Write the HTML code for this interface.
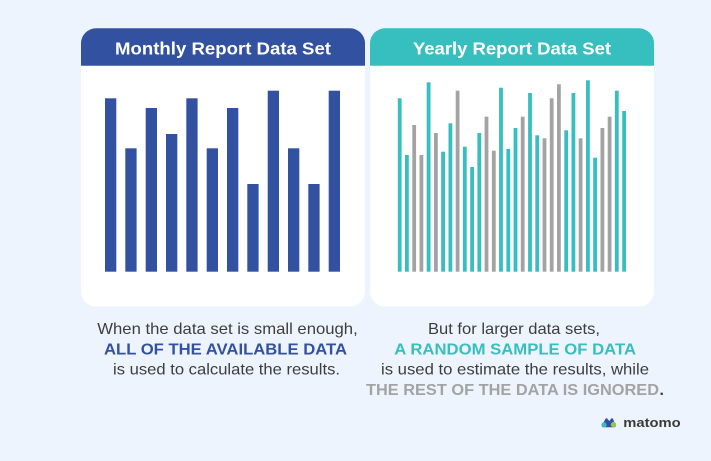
<!DOCTYPE html>
<html><head><meta charset="utf-8"><style>
html,body{margin:0;padding:0;background:#EEF4FD;}
svg{display:block;}
</style></head><body>
<svg width="711" height="461" viewBox="0 0 711 461" xmlns="http://www.w3.org/2000/svg">
<rect x="0" y="0" width="711" height="461" fill="#EEF4FD"/>
<!-- Left panel -->
<rect x="81" y="28.3" width="284" height="278.2" rx="15" fill="#FFFFFF"/>
<path d="M81 65.7 V43.3 A15 15 0 0 1 96 28.3 H350 A15 15 0 0 1 365 43.3 V65.7 Z" fill="#3251A1"/>
<text x="115" y="54.3" textLength="216" lengthAdjust="spacingAndGlyphs" font-family="Liberation Sans, sans-serif" font-weight="bold" font-size="17.5" fill="#FFFFFF">Monthly Report Data Set</text>
<g fill="#3251A1">
<rect x="105" y="98.3" width="11.3" height="173.4"/>
<rect x="125.3" y="148.3" width="11.3" height="123.4"/>
<rect x="145.7" y="108" width="11.3" height="163.7"/>
<rect x="166" y="134" width="11.3" height="137.7"/>
<rect x="186.3" y="98.3" width="11.3" height="173.4"/>
<rect x="206.7" y="148.3" width="11.3" height="123.4"/>
<rect x="227" y="108" width="11.3" height="163.7"/>
<rect x="247.3" y="184" width="11.3" height="87.7"/>
<rect x="267.7" y="90.7" width="11.3" height="181"/>
<rect x="288" y="148.3" width="11.3" height="123.4"/>
<rect x="308.3" y="184" width="11.3" height="87.7"/>
<rect x="328.7" y="90.7" width="11.3" height="181"/>
</g>
<!-- Right panel -->
<rect x="370" y="28.3" width="284" height="278.2" rx="15" fill="#FFFFFF"/>
<path d="M370 65.7 V43.3 A15 15 0 0 1 385 28.3 H639 A15 15 0 0 1 654 43.3 V65.7 Z" fill="#37BEBE"/>
<text x="413" y="54.3" textLength="198" lengthAdjust="spacingAndGlyphs" font-family="Liberation Sans, sans-serif" font-weight="bold" font-size="17.5" fill="#FFFFFF">Yearly Report Data Set</text>
<g>
<rect x="397.8" y="98.3" width="3.8" height="173.4" fill="#37BEBE"/>
<rect x="405.0" y="155" width="3.8" height="116.7" fill="#37BEBE"/>
<rect x="412.3" y="125" width="3.8" height="146.7" fill="#A3A3A3"/>
<rect x="419.5" y="155" width="3.8" height="116.7" fill="#A3A3A3"/>
<rect x="426.7" y="82.3" width="3.8" height="189.4" fill="#37BEBE"/>
<rect x="434.0" y="133" width="3.8" height="138.7" fill="#A3A3A3"/>
<rect x="441.2" y="151.7" width="3.8" height="120" fill="#37BEBE"/>
<rect x="448.5" y="123.3" width="3.8" height="148.4" fill="#37BEBE"/>
<rect x="455.7" y="90.7" width="3.8" height="181" fill="#A3A3A3"/>
<rect x="462.9" y="146.7" width="3.8" height="125" fill="#37BEBE"/>
<rect x="470.2" y="167" width="3.8" height="104.7" fill="#37BEBE"/>
<rect x="477.4" y="133" width="3.8" height="138.7" fill="#37BEBE"/>
<rect x="484.6" y="116.7" width="3.8" height="155" fill="#A3A3A3"/>
<rect x="491.9" y="150.7" width="3.8" height="121" fill="#A3A3A3"/>
<rect x="499.1" y="87.7" width="3.8" height="184" fill="#37BEBE"/>
<rect x="506.4" y="149" width="3.8" height="122.7" fill="#37BEBE"/>
<rect x="513.6" y="128" width="3.8" height="143.7" fill="#37BEBE"/>
<rect x="520.8" y="116.7" width="3.8" height="155" fill="#A3A3A3"/>
<rect x="528.1" y="93" width="3.8" height="178.7" fill="#37BEBE"/>
<rect x="535.3" y="135.3" width="3.8" height="136.4" fill="#37BEBE"/>
<rect x="542.6" y="138.3" width="3.8" height="133.4" fill="#A3A3A3"/>
<rect x="549.8" y="98.3" width="3.8" height="173.4" fill="#A3A3A3"/>
<rect x="557.0" y="84.3" width="3.8" height="187.4" fill="#A3A3A3"/>
<rect x="564.3" y="130.3" width="3.8" height="141.4" fill="#37BEBE"/>
<rect x="571.5" y="93" width="3.8" height="178.7" fill="#37BEBE"/>
<rect x="578.7" y="138.3" width="3.8" height="133.4" fill="#A3A3A3"/>
<rect x="586.0" y="80.3" width="3.8" height="191.4" fill="#37BEBE"/>
<rect x="593.2" y="157.7" width="3.8" height="114" fill="#37BEBE"/>
<rect x="600.5" y="128" width="3.8" height="143.7" fill="#A3A3A3"/>
<rect x="607.7" y="116.7" width="3.8" height="155" fill="#A3A3A3"/>
<rect x="614.9" y="90.7" width="3.8" height="181" fill="#37BEBE"/>
<rect x="622.2" y="111" width="3.8" height="160.7" fill="#37BEBE"/>
</g>
<!-- Captions -->
<g font-family="Liberation Sans, Arial, sans-serif" font-size="16">
<text x="97.3" y="334" textLength="260.4" lengthAdjust="spacingAndGlyphs" fill="#3D3D3D">When the data set is small enough,</text>
<text x="104" y="354.3" textLength="243" lengthAdjust="spacingAndGlyphs" font-weight="bold" fill="#3251A1">ALL OF THE AVAILABLE DATA</text>
<text x="113" y="374.3" textLength="227" lengthAdjust="spacingAndGlyphs" fill="#3D3D3D">is used to calculate the results.</text>
<text x="428" y="334" textLength="172" lengthAdjust="spacingAndGlyphs" fill="#3D3D3D">But for larger data sets,</text>
<text x="394.3" y="354.3" textLength="241.7" lengthAdjust="spacingAndGlyphs" font-weight="bold" fill="#37BEBE">A RANDOM SAMPLE OF DATA</text>
<text x="381" y="374.3" textLength="268" lengthAdjust="spacingAndGlyphs" fill="#3D3D3D">is used to estimate the results, while</text>
<text x="366" y="395" textLength="293" lengthAdjust="spacingAndGlyphs" font-weight="bold" fill="#A3A3A3">THE REST OF THE DATA IS IGNORED</text>
<text x="659.5" y="395" font-weight="bold" fill="#3D3D3D">.</text>
</g>
<!-- matomo logo -->
<g>
<path d="M603 426 L606.5 419.5 L609.5 423 L612 419.5 L614.5 426 Z" fill="#3251A1" stroke="#3251A1" stroke-width="2.4" stroke-linejoin="round"/>
<circle cx="604" cy="424.8" r="2.6" fill="#37BEBE"/>
<circle cx="613.5" cy="424.6" r="2.7" fill="#95C748"/>
<text x="623.3" y="427" textLength="57.4" lengthAdjust="spacingAndGlyphs" font-family="Liberation Sans, sans-serif" font-weight="bold" font-size="13" fill="#3A3A3A">matomo</text>
</g>
</svg>
</body></html>
